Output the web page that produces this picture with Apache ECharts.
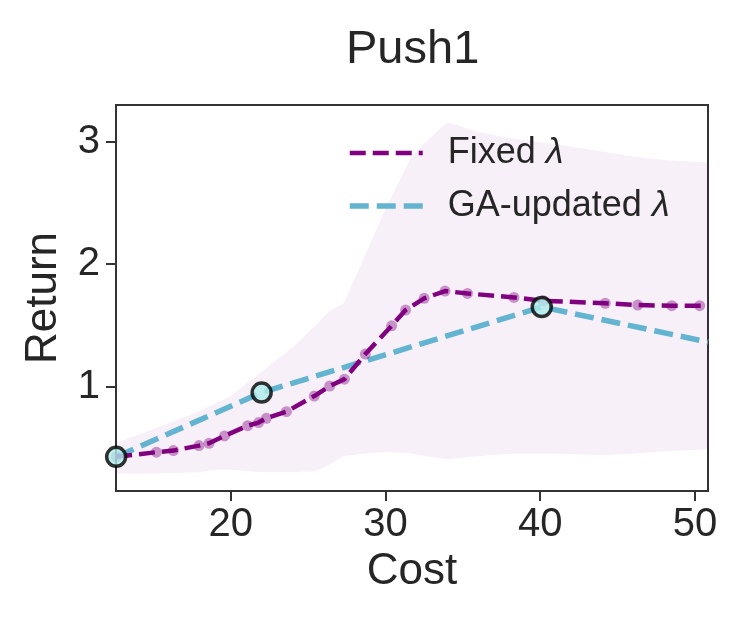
<!DOCTYPE html>
<html>
<head>
<meta charset="utf-8">
<script src="https://cdn.jsdelivr.net/npm/echarts@6/dist/echarts.min.js"></script>
<style>
html,body{margin:0;padding:0;background:#fff;}
#chart{width:747px;height:623px;}
</style>
</head>
<body>
<div id="chart"></div>
<script>
// ---- data ----
var xTicks = [20, 30, 40, 50];
var yTicks = [1, 2, 3];

var fixedX = [12.6, 15.2, 16.3, 17.95, 18.6, 19.6, 21.1, 21.8, 22.3, 23.6, 25.4, 26.4, 27.35, 28.7, 30.4, 31.3, 32.5, 33.85, 35.3, 38.3, 40.2, 44.2, 46.3, 48.5, 50.3, 50.84];
var fixedY = [0.425, 0.463, 0.476, 0.517, 0.536, 0.596, 0.68, 0.705, 0.74, 0.794, 0.922, 1.004, 1.06, 1.265, 1.496, 1.624, 1.72, 1.78, 1.76, 1.728, 1.70, 1.68, 1.665, 1.66, 1.66, 1.66];

var gaX = [12.6, 22.0, 40.1, 50.84];
var gaY = [0.425, 0.95, 1.65, 1.363];

var bandX    = [12.6, 15, 18, 19, 20, 22, 24, 25.5, 26.4, 27.3, 28.5, 30, 31.6, 32.6, 34, 36, 38, 41, 44, 46, 48, 50.84];
var bandLow  = [0.29, 0.29, 0.30, 0.32, 0.32, 0.30, 0.30, 0.31, 0.36, 0.43, 0.45, 0.465, 0.455, 0.43, 0.405, 0.43, 0.45, 0.45, 0.44, 0.45, 0.47, 0.487];
var bandHigh = [0.54, 0.65, 0.80, 0.86, 0.92, 1.12, 1.32, 1.50, 1.62, 1.68, 2.02, 2.45, 2.86, 3.00, 3.16, 3.08, 3.03, 2.98, 2.92, 2.88, 2.85, 2.83];

// ---- build ----
function zip(xs, ys){ return xs.map(function(x,i){ return [x, ys[i]]; }); }
var fixedLine = zip(fixedX, fixedY);
var fixedDots = fixedLine.slice(0, fixedLine.length - 1);
var gaLine = zip(gaX, gaY);
var gaDots = gaLine.slice(0, 3);
var bandData = bandX.map(function(x,i){ return [x, bandLow[i], bandHigh[i]]; });

var FONT = '"Liberation Sans", Arial, sans-serif';
var TXT = '#262626';
var FRAME = '#333333';
var PURPLE = '#800080';
var CYAN = '#62b4d0';

function renderBand(params, api){
  if (params.dataIndex !== 0) return;
  var pts = [], i;
  for (i = 0; i < bandX.length; i++) pts.push(api.coord([bandX[i], bandHigh[i]]));
  for (i = bandX.length - 1; i >= 0; i--) pts.push(api.coord([bandX[i], bandLow[i]]));
  return {
    type: 'polygon',
    shape: {points: pts},
    style: {fill: 'rgba(128,0,128,0.058)', stroke: 'none'},
    silent: true
  };
}

var chart = echarts.init(document.getElementById('chart'), null, {renderer:'canvas'});
chart.setOption({
  animation: false,
  backgroundColor: '#ffffff',
  title: {
    text: 'Push1', left: 341, top: 22,
    textStyle: {fontFamily: FONT, fontSize: 47, fontWeight: 'normal', color: TXT}
  },
  grid: {
    left: 116, right: 39, top: 105, bottom: 132,
    show: true, borderColor: FRAME, borderWidth: 2, backgroundColor: 'transparent'
  },
  legend: {
    orient: 'vertical', left: 342, top: 130,
    itemWidth: 73, itemHeight: 14, itemGap: 17,
    itemStyle: {opacity: 0},
    data: [
      {name: 'Fixed λ', lineStyle: {color: PURPLE, width: 4.5, type: [16, 7]}},
      {name: 'GA-updated λ', lineStyle: {color: CYAN, width: 5.5, type: [19, 8]}}
    ],
    formatter: function(name){
      return name.replace('λ', '{i|λ}');
    },
    textStyle: {
      fontFamily: FONT, fontSize: 36, color: TXT, padding: [0,0,0,20],
      rich: {i: {fontFamily: FONT, fontSize: 36, fontStyle: 'italic', color: TXT}}
    }
  },
  xAxis: {
    type: 'value', min: 12.59, max: 50.84,
    name: 'Cost', nameLocation: 'middle', nameGap: 59,
    nameTextStyle: {fontFamily: FONT, fontSize: 44, color: TXT},
    axisLine: {show: true, lineStyle: {color: FRAME, width: 2}},
    axisTick: {show: true, inside: false, length: 10, lineStyle: {color: FRAME, width: 2}, customValues: xTicks},
    axisLabel: {fontFamily: FONT, fontSize: 40, color: TXT, margin: 14, customValues: xTicks},
    splitLine: {show: false}
  },
  yAxis: {
    type: 'value', min: 0.146, max: 3.30,
    name: 'Return', nameLocation: 'middle', nameGap: 50,
    nameTextStyle: {fontFamily: FONT, fontSize: 44, color: TXT},
    axisLine: {show: true, lineStyle: {color: FRAME, width: 2}},
    axisTick: {show: true, inside: false, length: 10, lineStyle: {color: FRAME, width: 2}, customValues: yTicks},
    axisLabel: {fontFamily: FONT, fontSize: 40, color: TXT, margin: 16, customValues: yTicks},
    splitLine: {show: false}
  },
  series: [
    {
      name: 'band', type: 'custom', data: bandData, renderItem: renderBand,
      encode: {x: 0, y: [1, 2]}, silent: true, z: 1
    },
    {
      name: 'Fixed λ', type: 'line', data: fixedLine, symbol: 'none',
      lineStyle: {color: PURPLE, width: 4.5, type: [16, 7]},
      itemStyle: {color: PURPLE}, z: 3
    },
    {
      name: 'GA-updated λ', type: 'line', data: gaLine, symbol: 'none',
      lineStyle: {color: CYAN, width: 5.5, type: [19, 8]},
      itemStyle: {color: CYAN}, z: 2
    },
    {
      name: 'fixedDots', type: 'scatter', data: fixedDots, symbolSize: 11,
      itemStyle: {color: 'rgba(128,0,128,0.5)'}, z: 4
    },
    {
      name: 'gaDots', type: 'scatter', data: gaDots, symbolSize: 19,
      itemStyle: {color: '#aeeeea', borderColor: '#000000', borderWidth: 3.5}, z: 5
    }
  ]
});
</script>
</body>
</html>
